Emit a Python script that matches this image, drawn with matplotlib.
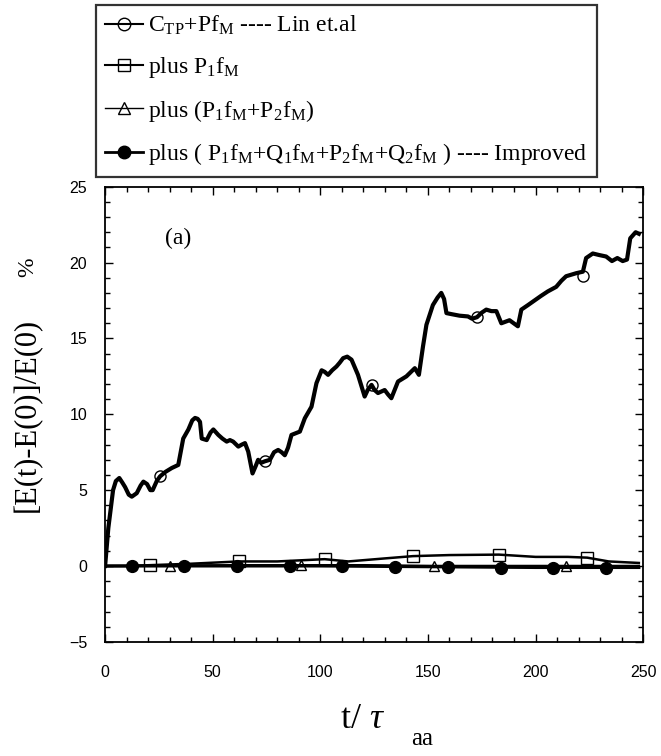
import numpy as np
import matplotlib
matplotlib.use("Agg")
import matplotlib.pyplot as plt
from matplotlib.ticker import MultipleLocator

plt.rcParams["mathtext.fontset"] = "custom"
plt.rcParams["mathtext.rm"] = "Liberation Serif"
plt.rcParams["mathtext.it"] = "Liberation Serif:italic"

# C_TP + P f_M  (Lin et al.)
lin_t = [0, 1.5, 3.7, 5.0, 6.6, 8.0, 9.3, 11.0, 12.4, 14.7, 16.5, 17.8, 19.5, 21.0,
         22.1, 24.0, 25.5, 28.0, 31.0, 34.0, 36.3, 38.7, 40.5, 41.8, 43.0, 44.1,
         44.9, 47.2, 49.0, 50.3, 52.6, 54.5, 56.5, 58.0, 59.5, 61.9, 63.5, 65.0,
         66.5, 68.5, 70.0, 71.1, 72.5, 74.2, 76.6, 78.5, 80.4, 82.0, 83.5, 85.0,
         86.6, 90.5, 92.8, 95.9, 98.2, 100.6, 102.0, 103.6, 105.5, 107.5, 109.0,
         110.6, 112.5, 114.5, 117.5, 120.6, 122.0, 123.8, 125.2, 126.8, 129.9,
         131.5, 133.0, 136.1, 140.0, 143.9, 145.8, 147.7, 149.3, 152.3, 154.5,
         156.2, 157.5, 158.6, 161.0, 164.7, 168.6, 170.5, 172.8, 175.0, 177.1,
         179.5, 181.8, 184.1, 187.9, 191.8, 193.4, 196.5, 199.5, 202.5, 205.7,
         209.6, 212.0, 214.2, 218.9, 222.0, 223.5, 226.6, 229.5, 232.8, 235.5,
         238.0, 240.5, 242.5, 244.0, 246.5, 248.0]
lin_v = [0, 2.5, 5.0, 5.6, 5.8, 5.5, 5.2, 4.7, 4.57, 4.8, 5.3, 5.56, 5.4, 5.0,
         5.0, 5.6, 5.9, 6.2, 6.46, 6.66, 8.4, 9.0, 9.6, 9.76, 9.7, 9.5,
         8.4, 8.3, 8.8, 9.0, 8.64, 8.4, 8.2, 8.3, 8.2, 7.87, 8.0, 8.1,
         7.54, 6.1, 6.6, 7.0, 6.8, 6.9, 7.0, 7.5, 7.65, 7.5, 7.3, 7.8,
         8.64, 8.86, 9.74, 10.5, 12.05, 12.9, 12.8, 12.6, 12.9, 13.15, 13.4,
         13.7, 13.8, 13.6, 12.6, 11.17, 11.6, 11.94, 11.6, 11.4, 11.6,
         11.3, 11.06, 12.16, 12.5, 13.04, 12.6, 14.47, 15.9, 17.2, 17.7,
         18.0, 17.6, 16.67, 16.6, 16.5, 16.45, 16.3, 16.4, 16.7, 16.9,
         16.8, 16.8, 16.0, 16.2, 15.8, 16.9, 17.2, 17.5, 17.8, 18.1,
         18.4, 18.8, 19.1, 19.3, 19.4, 20.3, 20.6, 20.5, 20.4, 20.1,
         20.3, 20.1, 20.2, 21.6, 22.0, 21.9]
lin_mark_t = [25.5, 74.2, 123.8, 172.8, 222.0]
lin_mark_v = [5.9, 6.9, 11.9, 16.4, 19.1]

# plus P1 f_M
p1_t = [0, 10, 20, 40, 62, 80, 102, 113, 130, 143, 160, 183, 200, 215, 224, 234, 248]
p1_v = [0, 0.0, 0.05, 0.15, 0.3, 0.3, 0.45, 0.3, 0.5, 0.65, 0.72, 0.75, 0.6, 0.6, 0.55, 0.3, 0.2]
p1_mark_t = [21, 62, 102, 143, 183, 224]
p1_mark_v = [0.05, 0.3, 0.45, 0.65, 0.75, 0.55]

# plus (P1 f_M + P2 f_M)
p12_t = [0, 30, 60, 91, 120, 153, 190, 214, 248]
p12_v = [0, 0.02, 0.05, 0.05, 0.05, 0.0, 0.0, 0.0, 0.0]
p12_mark_t = [30, 91, 153, 214]
p12_mark_v = [0.02, 0.05, 0.0, 0.0]

# plus (P1 f_M + Q1 f_M + P2 f_M + Q2 f_M)  (improved)
imp_t = [0, 50, 100, 150, 200, 248]
imp_v = [0, 0, 0, -0.05, -0.1, -0.1]
imp_mark_t = [12.3, 36.8, 61.3, 85.8, 110.3, 134.8, 159.3, 183.8, 208.3, 232.8]
imp_mark_v = [0, 0, 0, -0.02, -0.03, -0.05, -0.07, -0.1, -0.1, -0.1]

x_ticks = [0, 50, 100, 150, 200, 250]
y_ticks = [-5, 0, 5, 10, 15, 20, 25]

fig = plt.figure(figsize=(6.61, 7.56), dpi=100)
ax = fig.add_axes([0.159, 0.151, 0.814, 0.602])

ax.plot(imp_t, imp_v, color="black", lw=2.2, zorder=3)
ax.plot(imp_mark_t, imp_mark_v, ls="none", marker="o", ms=8.5,
        mfc="black", mec="black", zorder=4)
ax.plot(p12_t, p12_v, color="black", lw=1.8, zorder=3)
ax.plot(p12_mark_t, p12_mark_v, ls="none", marker="^", ms=7,
        mfc="none", mec="black", mew=1.0, zorder=2)
ax.plot(p1_t, p1_v, color="black", lw=1.8, zorder=3)
ax.plot(p1_mark_t, p1_mark_v, ls="none", marker="s", ms=8,
        mfc="none", mec="black", mew=1.0, zorder=2)
ax.plot(lin_t, lin_v, color="black", lw=3.0, zorder=3)
ax.plot(lin_mark_t, lin_mark_v, ls="none", marker="o", ms=8,
        mfc="none", mec="black", mew=1.0, zorder=2)

ax.set_xlim(0, 250)
ax.set_ylim(-5, 25)
ax.set_xticks(x_ticks)
ax.set_yticks(y_ticks)
ax.xaxis.set_minor_locator(MultipleLocator(10))
ax.yaxis.set_minor_locator(MultipleLocator(1))
ax.tick_params(which="both", direction="in", top=True, right=True, width=1.0)
ax.tick_params(which="major", length=6)
ax.tick_params(which="minor", length=3.5)
ax.tick_params(axis="x", which="major", pad=17)
ax.tick_params(axis="y", which="major", pad=13)
for lab in ax.get_xticklabels() + ax.get_yticklabels():
    lab.set_fontfamily("Liberation Sans")
    lab.set_fontsize(11.5)
for sp in ax.spines.values():
    sp.set_linewidth(1.3)

ax.text(27.8, 21.6, "(a)", fontsize=17, family="Liberation Serif", va="center")

fig.text(0.042, 0.451, "[E(t)-E(0)]/E(0)", rotation=90, fontsize=22,
         family="Liberation Serif", ha="center", va="center")
fig.text(0.042, 0.647, "%", rotation=90, fontsize=17,
         family="Liberation Serif", ha="center", va="center")
fig.text(0.548, 0.048, r"t/ $\tau$", fontsize=26, family="Liberation Serif",
         ha="center", va="center")
fig.text(0.638, 0.022, "aa", fontsize=18, family="Liberation Serif",
         ha="center", va="center")

# legend
h1, = ax.plot([], [], color="black", lw=1.5, marker="o", ms=9, mfc="none", mec="black")
h2, = ax.plot([], [], color="black", lw=1.5, marker="s", ms=8, mfc="none", mec="black")
h3, = ax.plot([], [], color="black", lw=1.0, marker="^", ms=8, mfc="none", mec="black")
h4, = ax.plot([], [], color="black", lw=2.0, marker="o", ms=9, mfc="black", mec="black")
labels = [
    r"C$_{\mathrm{TP}}$+Pf$_{\mathrm{M}}$ ---- Lin et.al",
    r"plus P$_{1}$f$_{\mathrm{M}}$",
    r"plus (P$_{1}$f$_{\mathrm{M}}$+P$_{2}$f$_{\mathrm{M}}$)",
    r"plus ( P$_{1}$f$_{\mathrm{M}}$+Q$_{1}$f$_{\mathrm{M}}$+P$_{2}$f$_{\mathrm{M}}$+Q$_{2}$f$_{\mathrm{M}}$ ) ---- Improved",
]
leg = fig.legend([h1, h2, h3, h4], labels, loc="upper left",
                 bbox_to_anchor=(0.145, 0.994), borderaxespad=0.0,
                 frameon=True, fancybox=False,
                 edgecolor="black", handlelength=1.6, handletextpad=0.2,
                 labelspacing=0.75, borderpad=0.4,
                 prop={"family": "Liberation Serif", "size": 17})
leg.get_frame().set_linewidth(1.6)

fig.savefig("out.png", dpi=100)
